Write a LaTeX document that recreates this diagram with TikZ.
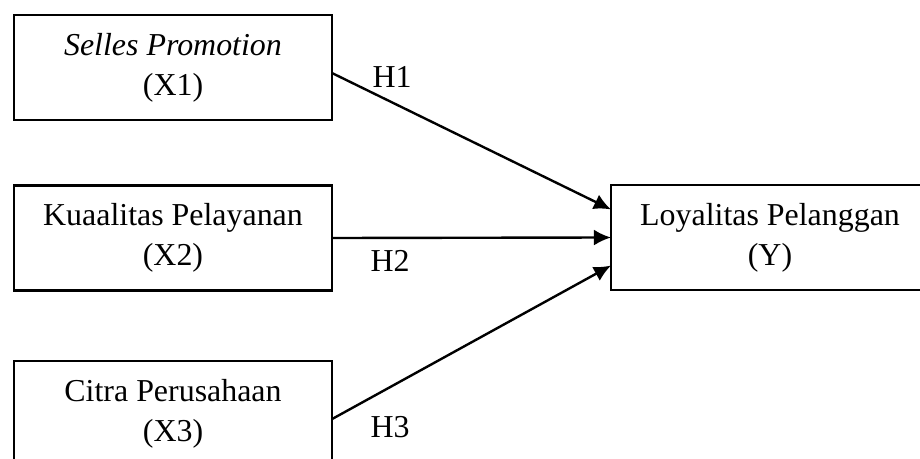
\documentclass[tikz,border=0pt]{standalone}
\usepackage{fontspec}
\setmainfont{Liberation Serif}
\usetikzlibrary{arrows.meta}
\tikzset{
  varbox/.style={draw, line width=0.9pt, minimum width=119.6pt, minimum height=39.5pt,
    inner sep=0pt, outer sep=0pt, align=center, font=\fontsize{12}{15}\selectfont},
  hlabel/.style={font=\fontsize{12}{14}\selectfont},
  path/.style={line width=0.9pt, -{Latex[length=6.4pt,width=6pt]}}
}
\begin{document}
\begin{tikzpicture}[x=0.376pt,y=-0.376pt]
				\useasboundingbox (0,0) rectangle (920,459);
				\node [varbox] (x1) at (173,67.5) {\textit{Selles Promotion}\\(X1)};
				\node [varbox] (x2) at (173,238) {Kuaalitas Pelayanan\\(X2)};
				\node [varbox] (x3) at (173,413.5) {Citra Perusahaan\\(X3)};
				\node [varbox] (y) at (770,237.5) {Loyalitas Pelanggan\\(Y)};
				\draw[path] (x1.-2.3)--(y.170.8);
				\draw[path] (x2.east)--(y.west);
				\draw[path] (x3.-2.7)--(y.190.9);
				\node [hlabel] (h1) at (392,77) {H1};
				\node [hlabel] (h2) at (390,261) {H2};
				\node [hlabel] (h3) at (390,427) {H3};
				\end{tikzpicture}
\end{document}
